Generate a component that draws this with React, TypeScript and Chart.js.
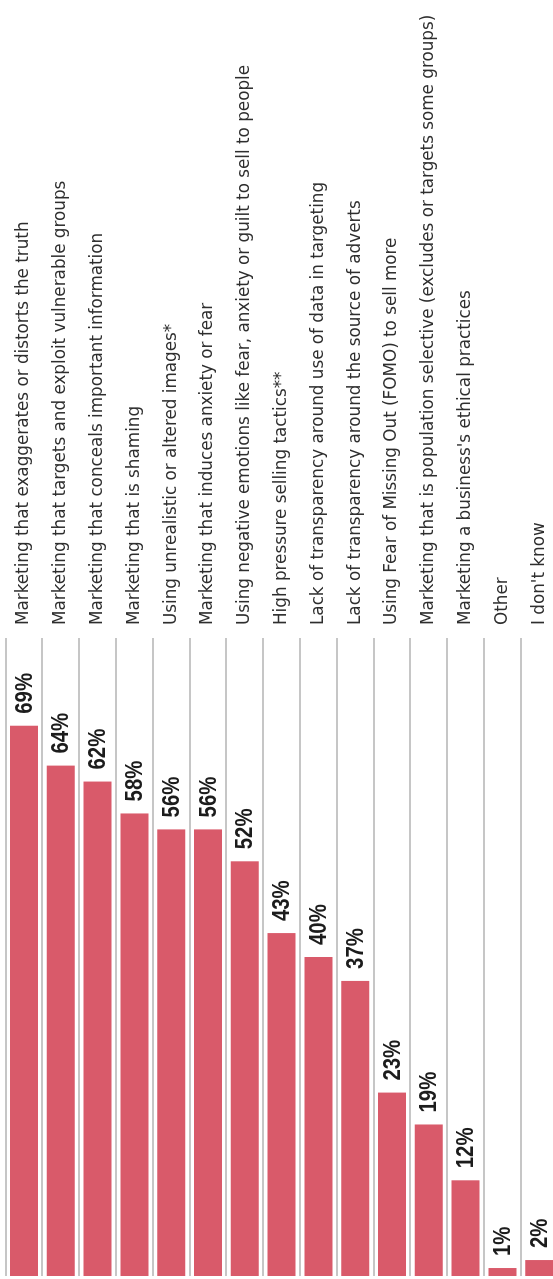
import React, { useEffect, useRef } from 'react';
import { Chart, registerables } from 'chart.js';

Chart.register(...registerables);

const categories: string[] = [
  'Marketing that exaggerates or distorts the truth',
  'Marketing that targets and exploit vulnerable groups',
  'Marketing that conceals important information',
  'Marketing that is shaming',
  'Using unrealistic or altered images*',
  'Marketing that induces anxiety or fear',
  'Using negative emotions like fear, anxiety or guilt to sell to people',
  'High pressure selling tactics**',
  'Lack of transparency around use of data in targeting',
  'Lack of transparency around the source of adverts',
  'Using Fear of Missing Out (FOMO) to sell more',
  'Marketing that is population selective (excludes or targets some groups)',
  "Marketing a business's ethical practices",
  'Other',
  "I don't know",
];

const values: number[] = [69, 64, 62, 58, 56, 56, 52, 43, 40, 37, 23, 19, 12, 1, 2];

const valueMin = 0;
const valueMax = 80;

// Canvas drawn unrotated (horizontal bars), then turned -90deg with CSS.
const CW = 1279;
const CH = 560;

export default function App() {
  const ref = useRef<HTMLCanvasElement | null>(null);

  useEffect(() => {
    if (!ref.current) return;
    const valueLabels = {
      id: 'valueLabels',
      afterDatasetsDraw(chart: any) {
        const ctx = chart.ctx as CanvasRenderingContext2D;
        const meta = chart.getDatasetMeta(0);
        ctx.save();
        ctx.fillStyle = '#1c1c1c';
        ctx.font = 'bold 24px "Liberation Sans", Arial, sans-serif';
        ctx.textBaseline = 'middle';
        ctx.textAlign = 'left';
        meta.data.forEach((bar: any, i: number) => {
          const p = bar.getProps(['x', 'y'], true);
          ctx.save();
          ctx.translate(p.x + 12, p.y + 1);
          ctx.scale(0.85, 1);
          ctx.fillText(values[i] + '%', 0, 0);
          ctx.restore();
        });
        ctx.restore();
      },
    };

    const chart = new Chart(ref.current, {
      type: 'bar',
      data: {
        labels: categories,
        datasets: [
          {
            data: values,
            backgroundColor: '#d95a6a',
            borderWidth: 0,
            barPercentage: 0.76,
            categoryPercentage: 1,
          },
        ],
      },
      options: {
        indexAxis: 'y',
        responsive: false,
        animation: false,
        layout: { padding: { left: 3, top: 5.6, bottom: 2.4, right: 0 } },
        plugins: {
          legend: { display: false },
          tooltip: { enabled: false },
        },
        scales: {
          x: { display: false, min: valueMin, max: valueMax },
          y: {
            position: 'right',
            border: { display: false },
            grid: { color: '#c6c6c6', lineWidth: 2, drawTicks: false, offset: true },
            ticks: {
              padding: 13,
              autoSkip: false,
              color: '#2e2e2e',
              font: { family: '"DejaVu Sans", sans-serif', size: 16.8 },
            },
            afterFit: (s: any) => {
              s.width = 638;
              s.paddingTop = 0;
              s.paddingBottom = 0;
            },
          },
        },
      } as any,
      plugins: [valueLabels],
    });
    return () => chart.destroy();
  }, []);

  return (
    <div
      style={{
        position: 'fixed',
        left: 0,
        top: 0,
        width: 553,
        height: 1279,
        overflow: 'hidden',
        background: '#ffffff',
      }}
    >
      <canvas
        ref={ref}
        width={CW}
        height={CH}
        style={{
          position: 'absolute',
          left: 0,
          top: 0,
          width: CW,
          height: CH,
          transformOrigin: '0 0',
          transform: `translateY(${CW}px) rotate(-90deg)`,
        }}
      />
    </div>
  );
}
